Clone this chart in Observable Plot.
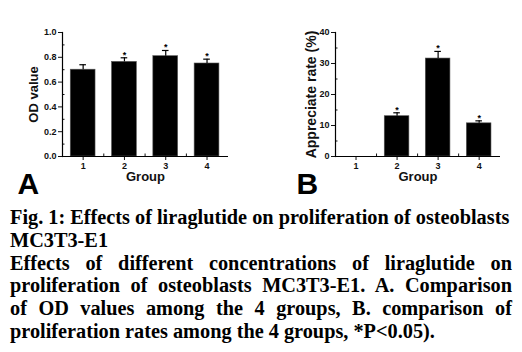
<!DOCTYPE html>
<html>
<head>
<meta charset="utf-8">
<script src="https://cdn.jsdelivr.net/npm/d3@7"></script>
<script src="https://cdn.jsdelivr.net/npm/@observablehq/plot@0.6"></script>
<style>
  html, body { margin: 0; padding: 0; background: #fff; }
  #wrap { width: 522px; }
  #charts { display: flex; width: 522px; height: 200px; }
  #caption { font-family: "Liberation Serif", "Times New Roman", serif; font-weight: bold; font-size: 20.3px; line-height: 22.8px; color: #000; padding: 6px 10px 0 10px; width: 502px; }
  .just { text-align: justify; text-align-last: justify; white-space: nowrap; }
  .last { text-align: left; white-space: nowrap; }
</style>
</head>
<body>
<div id="wrap">
  <div id="charts"></div>
  <div id="caption"></div>
</div>
<script>
// ---- data ----
const groups = [1, 2, 3, 4];
const odValues = [0.70, 0.763, 0.809, 0.75];
const odErrors = [0.04, 0.033, 0.046, 0.035];
const rateValues = [0, 13.0, 31.6, 10.7];
const rateErrors = [0, 1.1, 2.3, 0.8];
const significant = [false, true, true, true];
const odTicks = [0, 0.2, 0.4, 0.6, 0.8, 1.0];
const odMinor = [0.1, 0.3, 0.5, 0.7, 0.9];
const rateTicks = [0, 10, 20, 30, 40];
const rateMinor = [5, 15, 25, 35];
const groupMinor = [1.5, 2.5, 3.5];
const titleLines = ["Fig. 1: Effects of liraglutide on proliferation of osteoblasts", "MC3T3-E1"];
const captionLines = [
  "Effects of different concentrations of liraglutide on",
  "proliferation of osteoblasts MC3T3-E1. A. Comparison",
  "of OD values among the 4 groups, B. comparison of",
  "proliferation rates among the 4 groups, *P<0.05)."
];

function panel({values, errors, yDomain, ticks, minor, tickFmt, yLabel, yLabelSize, yLabelOffset, letter, letterDx, marginLeft, marginRight}) {
  const data = groups.map((g, i) => ({g, v: values[i], e: errors[i], sig: significant[i], top: values[i] + errors[i]}));
  const bars = data.filter(d => d.v > 0);
  const halfBar = 0.3, halfCap = 0.08;
  return Plot.plot({
    width: 261,
    height: 200,
    marginLeft, marginRight,
    marginTop: 32,
    marginBottom: 44,
    style: {fontFamily: "Liberation Sans, Arial, sans-serif", fontWeight: "bold", fontSize: "9px", color: "#111", background: "#fff", overflow: "visible"},
    x: {domain: [0.5, 4.52], axis: null},
    y: {domain: yDomain, axis: null},
    marks: [
      Plot.rectY(bars, {x1: d => d.g - halfBar, x2: d => d.g + halfBar, y1: 0, y2: "v", fill: "#000", stroke: "#555", strokeWidth: 0.6}),
      Plot.ruleX(bars, {x: "g", y1: "v", y2: "top", stroke: "#000", strokeWidth: 1.2}),
      Plot.ruleY(bars, {y: "top", x1: d => d.g - halfCap, x2: d => d.g + halfCap, stroke: "#000", strokeWidth: 1.2}),
      Plot.text(bars.filter(d => d.sig), {x: "g", y: "top", text: () => "*", dy: -3, fontSize: 9, lineAnchor: "middle", fill: "#000"}),
      Plot.axisY({ticks, tickFormat: tickFmt, tickSize: 4, tickPadding: 2, label: null}),
      Plot.axisY({ticks: minor, tickFormat: () => "", tickSize: -2.5, label: null}),
      Plot.axisY({ticks: [], label: yLabel, labelAnchor: "center", labelOffset: yLabelOffset, labelArrow: "none", fontSize: yLabelSize}),
      Plot.axisX({ticks: groups, tickFormat: d => String(d), tickSize: 4, tickPadding: 2, label: null}),
      Plot.axisX({ticks: groupMinor, tickFormat: () => "", tickSize: -2.5, label: null}),
      Plot.ruleY([yDomain[0]], {stroke: "#000", strokeWidth: 1.2}),
      Plot.frame({anchor: "left", stroke: "#000", strokeWidth: 1.2}),
      Plot.text(["Group"], {frameAnchor: "bottom", dy: 24, fontSize: 13, fill: "#111"}),
      Plot.text([letter], {frameAnchor: "bottom-left", dx: letterDx, dy: 37, lineAnchor: "bottom", textAnchor: "start", fontSize: 30, fill: "#000"})
    ]
  });
}

const charts = document.getElementById("charts");
charts.appendChild(panel({
  values: odValues, errors: odErrors, yDomain: [0, 1], ticks: odTicks, minor: odMinor,
  tickFmt: d3.format(".1f"), yLabel: "OD value", yLabelSize: 13, yLabelOffset: 34,
  letter: "A", letterDx: -45, marginLeft: 62, marginRight: 33
}));
charts.appendChild(panel({
  values: rateValues, errors: rateErrors, yDomain: [0, 40], ticks: rateTicks, minor: rateMinor,
  tickFmt: d3.format("d"), yLabel: "Appreciate rate (%)", yLabelSize: 14, yLabelOffset: 29,
  letter: "B", letterDx: -39, marginLeft: 74, marginRight: 22
}));

const cap = document.getElementById("caption");
titleLines.forEach(line => {
  const t = document.createElement("div");
  t.className = "last";
  t.textContent = line;
  cap.appendChild(t);
});
captionLines.forEach((line, i) => {
  const d = document.createElement("div");
  d.className = i < captionLines.length - 1 ? "just" : "last";
  d.textContent = line;
  cap.appendChild(d);
});
</script>
</body>
</html>
